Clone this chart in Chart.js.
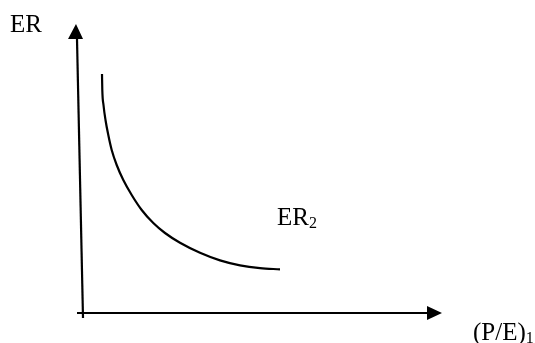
<!DOCTYPE html>
<html>
<head>
<meta charset="utf-8">
<script src="https://cdn.jsdelivr.net/npm/chart.js@4"></script>
<style>
html,body{margin:0;padding:0;background:#fff;}
#wrap{width:535px;height:343px;position:relative;}
</style>
</head>
<body>
<div id="wrap"><canvas id="c"></canvas></div>
<script>
// Curve ER2 (x: P/E units, y: ER units; origin at axes intersection)
const curveX = [19, 19.3, 20.5, 22.5, 25.3, 28.7, 33.7, 40.3, 48.7, 58.7, 70.3, 82, 97, 117, 137, 157, 177, 197];
const curveY = [239, 223, 208, 193, 178, 163, 148, 133, 118, 103, 90, 80, 70.25, 60.25, 52.65, 47.65, 44.85, 43.65];

// Axes
const yAxisX = [-6, 0];
const yAxisY = [274, -5];
const xAxisX = [-6, 344];
const xAxisY = [0, 0];

// Arrowheads (tip, base1, base2)
const yArrowX = [-7, -15, 0];
const yArrowY = [289, 274, 274];
const xArrowX = [359, 344, 344];
const xArrowY = [0, 7, -7];

// Labels
const labelTexts = ['ER', 'ER', '(P/E)'];
const labelSubs = ['', '2', '1'];
const labelX = [-73, 194, 390];
const labelY = [281, 88, -27];

const toPts = (xs, ys) => xs.map((x, i) => ({x: x, y: ys[i]}));

const annot = {
  id: 'annot',
  afterDatasetsDraw(chart) {
    const ctx = chart.ctx, sx = chart.scales.x, sy = chart.scales.y;
    ctx.save();
    ctx.fillStyle = '#000';
    [[yArrowX, yArrowY], [xArrowX, xArrowY]].forEach(([xs, ys]) => {
      ctx.beginPath();
      xs.forEach((x, i) => {
        const px = sx.getPixelForValue(x), py = sy.getPixelForValue(ys[i]);
        if (i === 0) ctx.moveTo(px, py); else ctx.lineTo(px, py);
      });
      ctx.closePath();
      ctx.fill();
    });
    ctx.textBaseline = 'alphabetic';
    ctx.textAlign = 'left';
    labelTexts.forEach((t, i) => {
      const px = sx.getPixelForValue(labelX[i]), py = sy.getPixelForValue(labelY[i]);
      ctx.font = '25px "Liberation Serif", "Times New Roman", serif';
      ctx.fillText(t, px, py);
      if (labelSubs[i]) {
        const w = ctx.measureText(t).width;
        ctx.font = '16px "Liberation Serif", "Times New Roman", serif';
        ctx.fillText(labelSubs[i], px + w, py + 3);
      }
    });
    ctx.restore();
  }
};

new Chart(document.getElementById('c'), {
  type: 'scatter',
  data: {
    datasets: [
      {data: toPts(curveX, curveY), showLine: true, borderColor: '#000', borderWidth: 2.2, pointRadius: 0, cubicInterpolationMode: 'monotone', fill: false},
      {data: toPts(yAxisX, yAxisY), showLine: true, borderColor: '#000', borderWidth: 2.2, pointRadius: 0, fill: false},
      {data: toPts(xAxisX, xAxisY), showLine: true, borderColor: '#000', borderWidth: 2.2, pointRadius: 0, fill: false}
    ]
  },
  options: {
    responsive: true,
    maintainAspectRatio: false,
    animation: false,
    layout: {padding: 0},
    plugins: {legend: {display: false}, tooltip: {enabled: false}},
    scales: {
      x: {type: 'linear', min: -83, max: 452, display: false},
      y: {type: 'linear', min: -30, max: 313, display: false}
    }
  },
  plugins: [annot]
});
</script>
</body>
</html>
